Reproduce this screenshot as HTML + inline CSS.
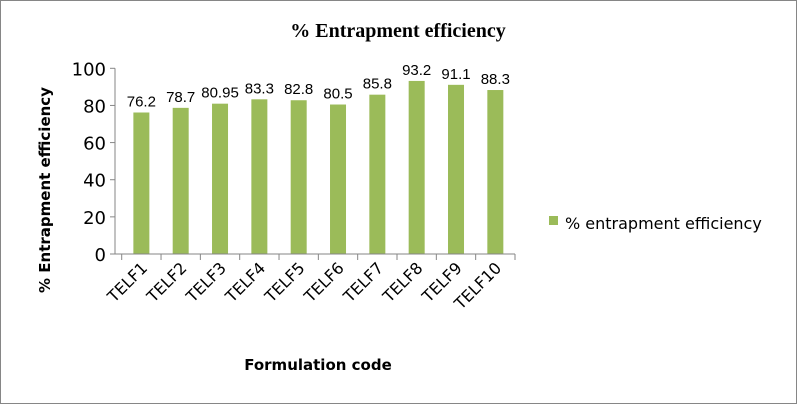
<!DOCTYPE html>
<html><head><meta charset="utf-8"><style>
body{margin:0;background:#fff;}
svg{display:block;font-family:"DejaVu Sans","Liberation Sans",sans-serif;}
</style></head><body>
<svg id="c" width="797" height="404">
<rect x="0.5" y="0.5" width="796" height="403" fill="#fff" stroke="#868686"/>
<text x="398" y="37" text-anchor="middle" font-family="Liberation Serif,serif" font-weight="bold" font-size="20">% Entrapment efficiency</text>
<text transform="translate(50,190) rotate(-90)" text-anchor="middle" font-weight="bold" font-size="15">% Entrapment efficiency</text>
<text x="318" y="370" text-anchor="middle" font-weight="bold" font-size="15">Formulation code</text>
<rect x="549" y="216" width="9" height="9" fill="#9bbb59"/>
<text x="565" y="229" font-size="16" fill="#000">% entrapment efficiency</text>
<g id="plot"></g>
</svg>
<script>
const categories=["TELF1","TELF2","TELF3","TELF4","TELF5","TELF6","TELF7","TELF8","TELF9","TELF10"];
const values=[76.2,78.7,80.95,83.3,82.8,80.5,85.8,93.2,91.1,88.3];
const labels=["76.2","78.7","80.95","83.3","82.8","80.5","85.8","93.2","91.1","88.3"];
const yTicks=[0,20,40,60,80,100];
const NS="http://www.w3.org/2000/svg";
const g=document.getElementById('plot');
const x0=121.7,x1=515,yb=254,yt=68.3;
const cw=(x1-x0)/categories.length;
const Y=v=>yb-(v/100)*(yb-yt);
const X=i=>x0+cw*(i+0.5);
function mk(t,a){const e=document.createElementNS(NS,t);for(const k in a)e.setAttribute(k,a[k]);g.appendChild(e);return e;}
yTicks.forEach(v=>{
 const l=mk('line',{x1:110,x2:115,y1:Y(v),y2:Y(v),stroke:'#868686'});
 
 
 const t=mk('text',{x:106,y:Y(v)+7,'text-anchor':'end','font-size':18,fill:'#000'});t.textContent=v;
 
 
});
values.forEach((v,i)=>{
 const r=mk('rect',{x:X(i)-8,y:Y(v),width:16,height:yb-Y(v),fill:'#9bbb59'});
 
 
 const t=mk('text',{x:X(i),y:Y(v)-6,'text-anchor':'middle','font-size':15,'font-family':'Liberation Sans,sans-serif',fill:'#000'});
 t.textContent=labels[i];
 
 
 const c=mk('text',{'text-anchor':'end','font-size':16,fill:'#000',transform:`translate(${X(i)+7},${yb+15}) rotate(-45)`});c.textContent=categories[i];
 
 
});
for(let i=0;i<=categories.length;i++){
 const l=mk('line',{x1:x0+cw*i,x2:x0+cw*i,y1:yb,y2:yb+6,stroke:'#868686'});
 
 
}
const ya=mk('line',{x1:115,x2:115,y1:yt,y2:yb,stroke:'#868686'});


const xa=mk('line',{x1:115,x2:x1,y1:yb,y2:yb,stroke:'#868686'});


</script>
</body></html>
